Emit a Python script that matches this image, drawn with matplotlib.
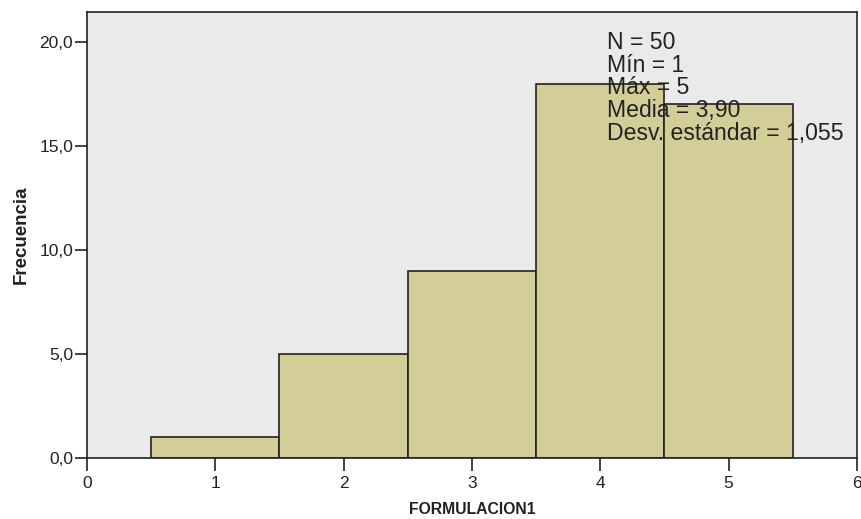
import matplotlib
matplotlib.use("Agg")
import matplotlib.pyplot as plt
from matplotlib.ticker import FuncFormatter

bin_centers = [1, 2, 3, 4, 5]
frequencies = [1, 5, 9, 18, 17]
stats_lines = ["N = 50", "Mín = 1", "Máx = 5", "Media = 3,90", "Desv. estándar = 1,055"]
xticks = [0, 1, 2, 3, 4, 5, 6]
yticks = [0, 5, 10, 15, 20]

plt.rcParams['font.family'] = ['Liberation Sans', 'DejaVu Sans']

fig = plt.figure(figsize=(8.62, 5.19), dpi=100)
ax = fig.add_axes([0.1009, 0.1175, 0.8933, 0.8594])
ax.set_facecolor('#EAEAEA')

ax.bar(bin_centers, frequencies, width=1.0, align='center', color='#D3CE97',
       edgecolor='#222222', linewidth=1.2, zorder=2)

ax.set_xlim(0, 6)
ax.set_ylim(0, 21.44)
ax.set_xticks(xticks)
ax.set_yticks(yticks)
ax.yaxis.set_major_formatter(FuncFormatter(lambda v, p: f"{v:.1f}".replace('.', ',')))
ax.tick_params(axis='both', direction='out', length=9, width=1.2, color='#222222',
               labelsize=12.5, labelcolor='#222222')
ax.tick_params(axis='x', pad=4)
ax.tick_params(axis='y', pad=1)

for s in ax.spines.values():
    s.set_color('#222222')
    s.set_linewidth(1.2)

ax.set_xlabel('FORMULACION1', fontsize=11.3, fontweight='bold', color='#222222', labelpad=8)
ax.set_ylabel('Frecuencia', fontsize=13.5, fontweight='bold', color='#222222', labelpad=7)

ax.text(0.675, 0.957, "\n".join(stats_lines), transform=ax.transAxes,
        ha='left', va='top', fontsize=16.6, color='#222222', linespacing=0.98, zorder=3)

fig.savefig('out.png', dpi=100)
